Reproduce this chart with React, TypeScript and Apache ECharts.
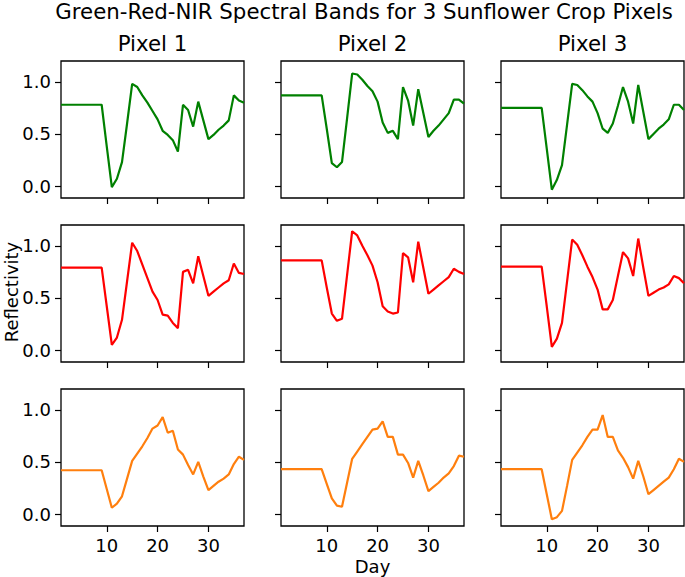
import React, { useEffect, useRef } from "react";
import * as echarts from "echarts";

const days = [1, 2, 3, 4, 5, 6, 7, 8, 9, 10, 11, 12, 13, 14, 15, 16, 17, 18, 19, 20, 21, 22, 23, 24, 25, 26, 27, 28, 29, 30, 31, 32, 33, 34, 35, 36, 37];

const greenP1 = [0.78, 0.78, 0.78, 0.78, 0.78, 0.78, 0.78, 0.78, 0.78, 0.38, -0.01, 0.07, 0.23, 0.6, 0.98, 0.95, 0.87, 0.8, 0.72, 0.64, 0.53, 0.49, 0.44, 0.33, 0.78, 0.73, 0.57, 0.81, 0.63, 0.45, 0.49, 0.54, 0.58, 0.63, 0.87, 0.82, 0.8];
const greenP2 = [0.87, 0.87, 0.87, 0.87, 0.87, 0.87, 0.87, 0.87, 0.87, 0.55, 0.22, 0.18, 0.23, 0.65, 1.08, 1.07, 1.02, 0.96, 0.91, 0.81, 0.61, 0.51, 0.53, 0.45, 0.95, 0.82, 0.58, 0.93, 0.7, 0.47, 0.53, 0.58, 0.64, 0.7, 0.83, 0.83, 0.79];
const greenP3 = [0.75, 0.75, 0.75, 0.75, 0.75, 0.75, 0.75, 0.75, 0.75, 0.36, -0.035, 0.06, 0.2, 0.59, 0.98, 0.97, 0.92, 0.86, 0.81, 0.7, 0.55, 0.51, 0.6, 0.77, 0.95, 0.81, 0.6, 0.97, 0.71, 0.45, 0.5, 0.55, 0.59, 0.64, 0.78, 0.78, 0.73];

const redP1 = [0.79, 0.79, 0.79, 0.79, 0.79, 0.79, 0.79, 0.79, 0.79, 0.42, 0.05, 0.12, 0.29, 0.66, 1.03, 0.95, 0.82, 0.69, 0.56, 0.48, 0.34, 0.33, 0.26, 0.21, 0.75, 0.77, 0.64, 0.9, 0.71, 0.52, 0.56, 0.6, 0.64, 0.67, 0.83, 0.74, 0.73];
const redP2 = [0.86, 0.86, 0.86, 0.86, 0.86, 0.86, 0.86, 0.86, 0.86, 0.6, 0.35, 0.28, 0.3, 0.72, 1.14, 1.1, 1.0, 0.91, 0.81, 0.65, 0.42, 0.37, 0.35, 0.36, 0.93, 0.89, 0.65, 1.04, 0.79, 0.54, 0.58, 0.62, 0.66, 0.7, 0.78, 0.75, 0.73];
const redP3 = [0.8, 0.8, 0.8, 0.8, 0.8, 0.8, 0.8, 0.8, 0.8, 0.42, 0.03, 0.11, 0.26, 0.66, 1.06, 1.01, 0.91, 0.8, 0.7, 0.58, 0.39, 0.39, 0.48, 0.71, 0.94, 0.88, 0.71, 1.07, 0.79, 0.52, 0.55, 0.58, 0.6, 0.63, 0.71, 0.69, 0.64];

const nirP1 = [0.42, 0.42, 0.42, 0.42, 0.42, 0.42, 0.42, 0.42, 0.42, 0.24, 0.06, 0.1, 0.17, 0.34, 0.51, 0.58, 0.65, 0.73, 0.82, 0.85, 0.93, 0.78, 0.8, 0.62, 0.57, 0.47, 0.38, 0.5, 0.36, 0.23, 0.27, 0.31, 0.34, 0.38, 0.48, 0.55, 0.52];
const nirP2 = [0.43, 0.43, 0.43, 0.43, 0.43, 0.43, 0.43, 0.43, 0.43, 0.29, 0.15, 0.08, 0.07, 0.3, 0.53, 0.6, 0.67, 0.74, 0.81, 0.82, 0.89, 0.74, 0.74, 0.57, 0.57, 0.49, 0.35, 0.51, 0.37, 0.22, 0.26, 0.3, 0.35, 0.39, 0.46, 0.56, 0.55];
const nirP3 = [0.43, 0.43, 0.43, 0.43, 0.43, 0.43, 0.43, 0.43, 0.43, 0.19, -0.05, -0.03, 0.03, 0.27, 0.52, 0.59, 0.66, 0.74, 0.81, 0.81, 0.95, 0.74, 0.74, 0.61, 0.54, 0.45, 0.34, 0.51, 0.36, 0.19, 0.23, 0.27, 0.31, 0.35, 0.43, 0.53, 0.5];

const pixelTitles = ["Pixel 1", "Pixel 2", "Pixel 3"];
const bandColors = ["#008000", "#ff0000", "#ff7f0e"];
const bandData = [
  [greenP1, greenP2, greenP3],
  [redP1, redP2, redP3],
  [nirP1, nirP2, nirP3],
];
const xTicks = [10, 20, 30];
const yTicks = [0, 0.5, 1.0];

const FONT = "DejaVu Sans";

export default function App() {
  const ref = useRef<HTMLDivElement>(null);
  useEffect(() => {
    if (!ref.current) return;
    const chart = echarts.init(ref.current, null, { renderer: "svg" });
    const lefts = [61, 281, 501];
    const tops = [61, 225, 389];
    const W = 183;
    const H = 137;
    const grids: any[] = [];
    const xAxes: any[] = [];
    const yAxes: any[] = [];
    const series: any[] = [];
    for (let r = 0; r < 3; r++) {
      for (let c = 0; c < 3; c++) {
        const idx = r * 3 + c;
        grids.push({
          left: lefts[c],
          top: tops[r],
          width: W,
          height: H,
          show: true,
          borderColor: "#000",
          borderWidth: 1.3,
          backgroundColor: "transparent",
          containLabel: false,
          outerBoundsMode: "none",
        });
        xAxes.push({
          type: "value",
          gridIndex: idx,
          position: "bottom",
          min: 1,
          max: 37,
          axisLine: { show: false, onZero: false },
          splitLine: { show: false },
          axisTick: {
            show: true,
            inside: false,
            length: 6,
            customValues: xTicks,
            lineStyle: { color: "#000", width: 1.2 },
          },
          axisLabel: {
            show: r === 2,
            customValues: xTicks,
            margin: 10,
            fontFamily: FONT,
            fontSize: 18,
            color: "#000",
          },
        });
        yAxes.push({
          type: "value",
          gridIndex: idx,
          position: "left",
          min: -0.115,
          max: 1.2,
          axisLine: { show: false, onZero: false },
          splitLine: { show: false },
          axisTick: {
            show: true,
            inside: false,
            length: 6,
            customValues: yTicks,
            lineStyle: { color: "#000", width: 1.2 },
          },
          axisLabel: {
            show: c === 0,
            customValues: yTicks,
            margin: 10,
            fontFamily: FONT,
            fontSize: 18,
            color: "#000",
            formatter: (v: number) => v.toFixed(1),
          },
        });
        const vals = bandData[r][c];
        series.push({
          type: "line",
          xAxisIndex: idx,
          yAxisIndex: idx,
          data: days.map((d, i) => [d, vals[i]]),
          showSymbol: false,
          symbol: "none",
          clip: true,
          lineStyle: { color: bandColors[r], width: 2.2 },
          itemStyle: { color: bandColors[r] },
        });
      }
    }
    const graphics: any[] = [
      {
        type: "text",
        x: 364,
        y: 11,
        style: {
          text: "Green-Red-NIR Spectral Bands for 3 Sunflower Crop Pixels",
          fontFamily: FONT,
          fontSize: 21.3,
          fill: "#000",
          align: "center",
          verticalAlign: "middle",
        },
      },
      ...pixelTitles.map((t, c) => ({
        type: "text",
        x: lefts[c] + W / 2,
        y: 43,
        style: {
          text: t,
          fontFamily: FONT,
          fontSize: 21.3,
          fill: "#000",
          align: "center",
          verticalAlign: "middle",
        },
      })),
      {
        type: "text",
        x: 11,
        y: 292,
        rotation: Math.PI / 2,
        style: {
          text: "Reflectivity",
          fontFamily: FONT,
          fontSize: 18,
          fill: "#000",
          align: "center",
          verticalAlign: "middle",
        },
      },
      {
        type: "text",
        x: lefts[1] + W / 2,
        y: 566,
        style: {
          text: "Day",
          fontFamily: FONT,
          fontSize: 18,
          fill: "#000",
          align: "center",
          verticalAlign: "middle",
        },
      },
    ];
    chart.setOption({
      animation: false,
      backgroundColor: "#fff",
      grid: grids,
      xAxis: xAxes,
      yAxis: yAxes,
      series,
      graphic: graphics,
    });
    return () => chart.dispose();
  }, []);
  return (
    <div
      ref={ref}
      style={{ position: "fixed", left: 0, top: 0, width: 685, height: 577 }}
    />
  );
}
